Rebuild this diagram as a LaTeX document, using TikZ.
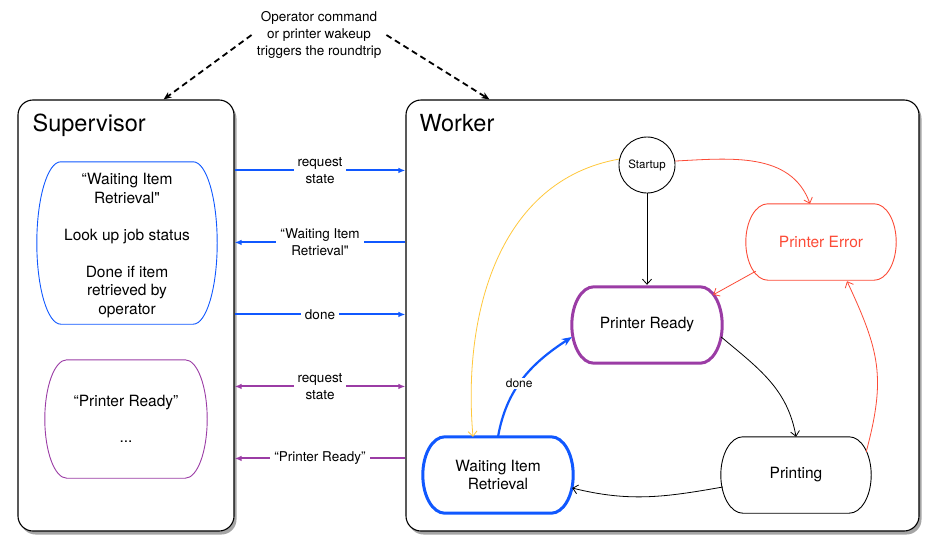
\documentclass[tikz,border=0pt]{standalone}
\usepackage{fontspec}
\setmainfont{TeX Gyre Heros}[Ligatures=TeXOff]
\usetikzlibrary{arrows.meta, calc, shadows}
\definecolor{msgblue}{RGB}{16,88,255}
\definecolor{msgpurple}{RGB}{155,60,165}
\definecolor{errred}{RGB}{252,75,55}
\definecolor{bootyellow}{RGB}{255,200,60}
\newcommand{\stateoutline}[3]{%
  \draw[#3] let \p1=(#1.north west), \p2=(#1.south east), \n1={(\y1-\y2)/2} in
    (\x1+#2,\y1) -- (\x2-#2,\y1)
    arc[start angle=90, end angle=-90, x radius=#2, y radius=\n1]
    -- (\x1+#2,\y2)
    arc[start angle=270, end angle=90, x radius=#2, y radius=\n1] -- cycle;}

\begin{document}
\begin{tikzpicture}[x=1pt, y=-1pt, >={Latex[length=7pt, width=5.5pt]},
  box/.style={draw, line width=1.1pt, rounded corners=15pt, fill=white, drop shadow={shadow xshift=2.5pt, shadow yshift=-3.5pt, fill=black!70, opacity=0.5}},
  title/.style={anchor=base west, inner sep=0pt, font=\fontsize{23.5}{28}\selectfont},
  stbox/.style={align=center, inner sep=0pt, font=\fontsize{15.5}{18.5}\selectfont},
  wstate/.style={minimum width=150, minimum height=76},
  lbl/.style={align=center, fill=white, text=black, inner xsep=4pt, inner ysep=1pt, font=\fontsize{13.5}{17}\selectfont},
  msg/.style={line width=2pt},
  trigger/.style={line width=1.8pt, dash pattern=on 6pt off 4pt, -{Stealth[length=8pt, width=6.5pt]}},
  trans/.style={line width=0.8pt, -{Straight Barb[length=5pt, width=9pt]}},
  donearr/.style={msgblue, line width=2.2pt, -{Stealth[length=10pt, width=8pt]}}]
  \useasboundingbox (0,0) rectangle (941,554);

  \node[box, minimum width=216, minimum height=431] (sup) at (126,315.5) {};
  \node[box, minimum width=513, minimum height=431] (wrk) at (662.5,315.5) {};
  \node[title] (suptitle) at ($(sup.north west)+(15,32)$) {Supervisor};
  \node[title] (wrktitle) at ($(wrk.north west)+(14,32)$) {Worker};

  \node[lbl, inner xsep=5pt] (trig) at (319,35) {Operator command\\or printer wakeup\\triggers the roundtrip};
  \draw[trigger] (trig.west) -- ($(sup.north east)+(-71,0)$);
  \draw[trigger] (trig.east) -- ($(wrk.north west)+(84,0)$);

  % supervisor side
  \node[stbox, minimum width=180, minimum height=162] (supwait) at (127,243) {};
  \node[stbox] (supwaittxt) at ($(supwait.center)+(0,2.5)$) {“Waiting Item\\Retrieval"\\[18.5pt]Look up job status\\[18.5pt]Done if item\\retrieved by\\operator};
  \stateoutline{supwait}{24pt}{msgblue, line width=0.9pt}
  \node[stbox, minimum width=162, minimum height=118] (supready) at (126,419) {“Printer Ready”\\[18pt]...};
  \stateoutline{supready}{22pt}{msgpurple, line width=0.9pt}

  \draw[msg, msgblue, ->] ($(sup.north east)+(0,71)$) -- node[lbl] {request\\state} ($(wrk.north west)+(0,71)$);
  \draw[msg, msgblue, <-] ($(sup.north east)+(0,143)$) -- node[lbl] {“Waiting Item\\Retrieval"} ($(wrk.north west)+(0,143)$);
  \draw[msg, msgblue, ->] ($(sup.north east)+(0,215)$) -- node[lbl] {done} ($(wrk.north west)+(0,215)$);
  \draw[msg, msgpurple, <->] ($(sup.north east)+(0,287)$) -- node[lbl] {request\\state} ($(wrk.north west)+(0,287)$);
  \draw[msg, msgpurple, <-] ($(sup.north east)+(0,359)$) -- node[lbl] {“Printer Ready”} ($(wrk.north west)+(0,359)$);

  % worker side
  \node[circle, draw, line width=0.9pt, minimum size=56, inner sep=0pt, font=\fontsize{11.5}{14}\selectfont] (boot) at (647,165) {Startup};
  \node[stbox, wstate, text=errred] (perr) at (821,242) {Printer Error};
  \node[stbox, wstate] (ready) at (647,325) {Printer Ready};
  \node[stbox, wstate] (wait) at (498,475) {Waiting Item\\Retrieval};
  \node[stbox, wstate] (print) at (796,475) {Printing};
  \stateoutline{perr}{22pt}{errred, line width=0.9pt}
  \stateoutline{ready}{22pt}{msgpurple, line width=3pt}
  \stateoutline{wait}{22pt}{msgblue, line width=3pt}
  \stateoutline{print}{22pt}{black, line width=0.9pt}

  \draw[trans] (boot) -- ($(ready.north)+(0,-2)$);
  \draw[trans, errred] (boot.8) to[out=3, in=110] ($(perr.north)+(-11,0)$);
  \draw[trans, bootyellow] (boot.168) to[out=190, in=95] ($(wait.north)+(-25,0)$);
  \draw[trans, errred] ($(perr.south west)+(10,-9)$) -- ($(ready.north east)+(-9,8)$);
  \draw[trans] ($(ready.east)+(-1,12)$) to[out=-40, in=100] (print.north);
  \draw[trans] ($(print.west)+(2,12)$) to[out=190, in=-14] ($(wait.east)+(-1,13)$);
  \draw[trans, errred] ($(print.north east)+(-5,15)$) to[out=75, in=-65, looseness=1.15] ($(perr.south)+(26,1)$);
  \draw[donearr] (wait.north) to[out=80, in=213] node[lbl, pos=0.45, font=\fontsize{12}{14}\selectfont] {done} ($(ready.west)+(0,12)$);
\end{tikzpicture}
\end{document}
